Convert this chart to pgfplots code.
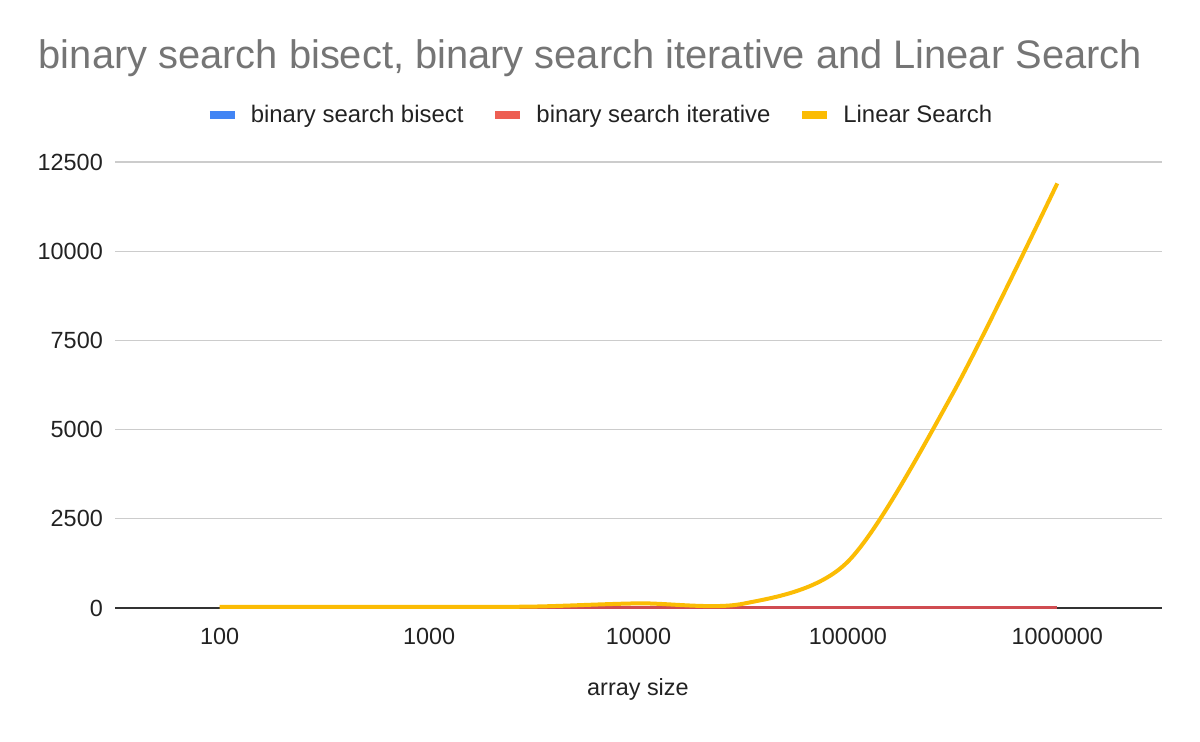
\documentclass[border=0pt]{standalone}
\usepackage{pgfplots}
\pgfplotsset{compat=1.18}
\usepackage{fontspec}
\setmainfont{Liberation Sans}
\definecolor{cblue}{HTML}{4285F4}
\definecolor{cred}{HTML}{EA4335}
\definecolor{cyellow}{HTML}{FBBC04}
\definecolor{ctitle}{HTML}{757575}
\definecolor{cgrid}{HTML}{CCCCCC}
\definecolor{ctick}{HTML}{222222}
\definecolor{cbase}{HTML}{333333}
\pgfplotstableread{
x y
0 10
1 10
2 10
3 10
4 10
5 10
6 10
7 10
8 10
}\bisect
\pgfplotstableread{
x y
0 14
1 14
2 14
3 14
4 14
5 14
6 14
7 14
8 14
}\iterative
\pgfplotstableread{
x y
0 30
1 30
2 30
3 40
4 130
5 120
6 1300
7 6000
8 11900
}\linear
\begin{document}
\begin{tikzpicture}[x=1bp,y=1bp]
\useasboundingbox (0,0) rectangle (1200,742);
\node[anchor=base, font=\fontsize{40}{48}\selectfont, text=ctitle, inner sep=0pt] at (590.4,673) {binary search bisect, binary search iterative and Linear Search};
\begin{axis}[
  at={(115bp,134bp)}, anchor=south west,
  width=1047bp, height=446bp, scale only axis,
  xmin=-1, xmax=9, ymin=0, ymax=12500,
  xtick={0,2,4,6,8}, xticklabels={100,1000,10000,100000,1000000},
  ytick={0,2500,5000,7500,10000,12500},
  ymajorgrids, grid style={cgrid, line width=1.3bp},
  axis line style={draw=none},
  major tick length=0pt,
  /pgf/number format/assume math mode=true,
  scaled y ticks=false,
  yticklabel style={font=\fontsize{23.5}{28}\selectfont, text=ctick, anchor=east, inner sep=0pt, xshift=-12bp},
  xticklabel style={font=\fontsize{23.5}{28}\selectfont, text=ctick, anchor=north, inner sep=0pt, yshift=-20bp},
  yticklabel={\pgfmathprintnumber[fixed,precision=0,1000 sep={}]{\tick}},
  xlabel={array size},
  xlabel style={font=\fontsize{23.5}{28}\selectfont, text=ctick, at={(axis description cs:0.4995,0)}, anchor=base, inner sep=0pt, yshift=-88bp},
  legend columns=-1,
  legend image code/.code={\draw[#1, line width=8bp, line cap=butt] (0bp,0bp) -- (25bp,0bp);},
  legend style={draw=none, fill=none, at={(axis description cs:0.4628,1.1054)}, anchor=center,
    font=\fontsize{24}{29}\selectfont, text=ctick,
    /tikz/every even column/.append style={column sep=27bp},
    /tikz/every odd column/.append style={column sep=11bp},
    nodes={inner sep=1bp}},
  clip=false,
]
\draw[cbase, line width=2bp] (axis cs:-1,0) -- (axis cs:9,0);
\addplot[cblue, line width=3bp, smooth] table[x=x,y=y] {\bisect};
\addlegendentry{binary search bisect}
\addplot[cred, line width=3bp, smooth, opacity=0.85] table[x=x,y=y] {\iterative};
\addlegendentry{binary search iterative}
\addplot[cyellow, line width=4bp, smooth] table[x=x,y=y] {\linear};
\addlegendentry{Linear Search}
\end{axis}
\end{tikzpicture}
\end{document}
